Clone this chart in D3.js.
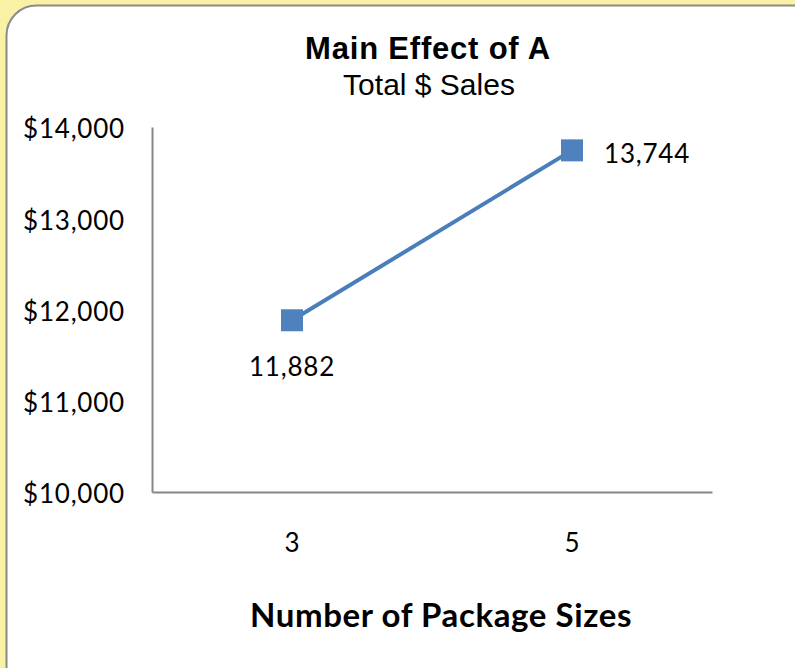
<!DOCTYPE html>
<html><head><meta charset="utf-8">
<script src="https://cdn.jsdelivr.net/npm/d3@7"></script>
<style>body{margin:0;background:#f9f1a6;} svg{display:block;}</style>
</head><body>
<svg id="c" width="795" height="668"></svg>
<script>
const categories = ["3", "5"];
const values = [11882, 13744];
const yTicks = [10000, 11000, 12000, 13000, 14000];
const title = "Main Effect of A";
const subtitle = "Total $ Sales";
const xTitle = "Number of Package Sizes";

(function () {
const svg = d3.select("#c");
svg.append("rect").attr("x", 0).attr("y", 0).attr("width", 795).attr("height", 668).attr("fill", "#f9f1a6");
svg.append("rect").attr("x", 6.5).attr("y", 5.5).attr("width", 820).attr("height", 690)
  .attr("rx", 30).attr("ry", 30).attr("fill", "#fff").attr("stroke", "#8a8a8a").attr("stroke-width", 2);

const pL = 152, pR = 712, pT = 127, pB = 492;
const x = d3.scaleBand().domain(categories).range([pL, pR]);
const y = d3.scaleLinear().domain([10000, 14000]).range([pB, pT]);
const font = "Lato, 'Open Sans', sans-serif";
const fs = 26, ls = 0.8;

const yAxis = svg.append("g").attr("transform", `translate(${pL},0)`)
  .call(d3.axisLeft(y).tickValues(yTicks).tickSize(0).tickPadding(27).tickFormat(d => "$" + d3.format(",")(d)));
yAxis.select(".domain").attr("stroke", "#868686").attr("stroke-width", 2);
yAxis.selectAll("text").attr("font-family", font).attr("font-size", fs).attr("letter-spacing", ls)
  .attr("fill", "#000").attr("dy", "0.42em");

const xAxis = svg.append("g").attr("transform", `translate(0,${pB})`)
  .call(d3.axisBottom(x).tickSize(0).tickPadding(42));
xAxis.select(".domain").attr("stroke", "#868686").attr("stroke-width", 2);
xAxis.selectAll("text").attr("font-family", font).attr("font-size", fs).attr("fill", "#000");

const pts = categories.map((c, i) => ({c, v: values[i]}));
const cx = d => x(d.c) + x.bandwidth() / 2;
svg.append("path").datum(pts)
  .attr("d", d3.line().x(cx).y(d => y(d.v)))
  .attr("fill", "none").attr("stroke", "#4a7ebb").attr("stroke-width", 4);
svg.selectAll(".m").data(pts).enter().append("rect")
  .attr("x", d => cx(d) - 11).attr("y", d => y(d.v) - 11)
  .attr("width", 22).attr("height", 22).attr("fill", "#4f81bd");

svg.append("text").attr("x", cx(pts[0])).attr("y", y(pts[0].v) + 56)
  .attr("text-anchor", "middle").attr("font-family", font).attr("font-size", fs).attr("letter-spacing", ls)
  .text(d3.format(",")(pts[0].v));
svg.append("text").attr("x", cx(pts[1]) + 32).attr("y", y(pts[1].v) + 13)
  .attr("text-anchor", "start").attr("font-family", font).attr("font-size", fs).attr("letter-spacing", ls)
  .text(d3.format(",")(pts[1].v));

svg.append("text").attr("x", 428).attr("y", 59).attr("text-anchor", "middle")
  .attr("font-family", "'Liberation Sans', Arial, sans-serif").attr("font-weight", "bold")
  .attr("font-size", 31).attr("letter-spacing", 0.8).text(title);
svg.append("text").attr("x", 429).attr("y", 95).attr("text-anchor", "middle")
  .attr("font-family", "'Liberation Sans', Arial, sans-serif")
  .attr("font-size", 30).text(subtitle);
svg.append("text").attr("x", 441).attr("y", 627).attr("text-anchor", "middle")
  .attr("font-family", font).attr("font-weight", "bold")
  .attr("font-size", 33).attr("letter-spacing", 0.6).text(xTitle);
})();
</script>
</body></html>
